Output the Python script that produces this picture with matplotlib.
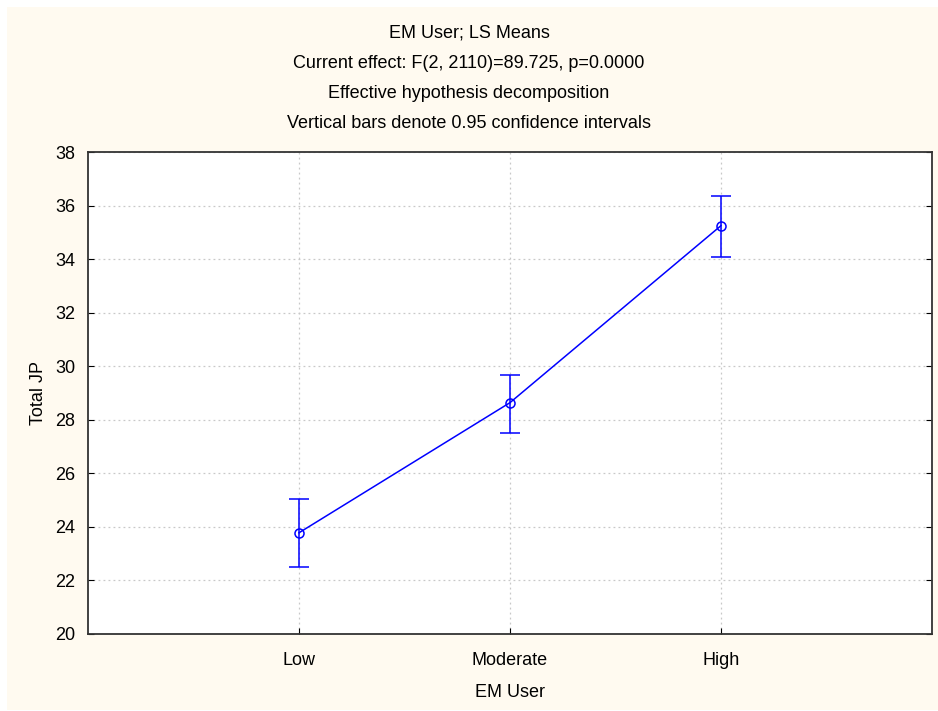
import matplotlib
matplotlib.use("Agg")
import matplotlib.pyplot as plt
from matplotlib.patches import Rectangle

categories = ["Low", "Moderate", "High"]
means = [23.78, 28.64, 35.25]
upper = [25.03, 29.67, 36.37]
lower = [22.52, 27.50, 34.07]
yticks = [20, 22, 24, 26, 28, 30, 32, 34, 36, 38]
title_lines = ["EM User; LS Means",
               "Current effect: F(2, 2110)=89.725, p=0.0000",
               "Effective hypothesis decomposition",
               "Vertical bars denote 0.95 confidence intervals"]

plt.rcParams['font.family'] = ['Liberation Sans', 'DejaVu Sans']

W, H = 938, 711
fig = plt.figure(figsize=(W / 100, H / 100), dpi=100, facecolor="white")
fig.patches.append(Rectangle((7 / W, 1 / H), 1 - 7 / W, (710 - 7) / H,
                             transform=fig.transFigure, facecolor="#FFFAF0",
                             edgecolor="none", zorder=-10))

ax = fig.add_axes([88 / W, 1 - 634 / H, (932 - 88) / W, (634 - 152) / H])
ax.set_facecolor("white")

x = list(range(1, len(categories) + 1))
yerr = [[m - l for m, l in zip(means, lower)], [u - m for m, u in zip(means, upper)]]
ax.errorbar(x, means, yerr=yerr, color="#0000FF", lw=1.1, marker="o",
            mfc="none", mec="#0000FF", ms=6.5, mew=1.1, capsize=7.5, capthick=1.1,
            elinewidth=1.1, zorder=5)

ax.set_xlim(0, 4)
ax.set_ylim(20, 38)
ax.set_xticks(x)
ax.set_xticklabels(categories)
ax.set_yticks(yticks)
ax.tick_params(axis="both", direction="in", length=4, labelsize=13, right=True, top=False,
               labelright=False, colors="black")
ax.tick_params(axis="x", pad=13)
ax.tick_params(axis="y", pad=9)
ax.grid(True, color="#C8C8C8", linestyle=(0, (1.5, 2.5)), linewidth=0.9)
for s in ax.spines.values():
    s.set_linewidth(1.3)
    s.set_color("#333333")

ax.set_xlabel("EM User", fontsize=13, labelpad=11)
ax.set_ylabel("Total JP", fontsize=13, labelpad=6)

for i, t in enumerate(title_lines):
    fig.text(0.5, 1 - (33 + 30.3 * i) / H, t, ha="center", va="center", fontsize=13)

fig.savefig("out.png", dpi=100, facecolor="white")
